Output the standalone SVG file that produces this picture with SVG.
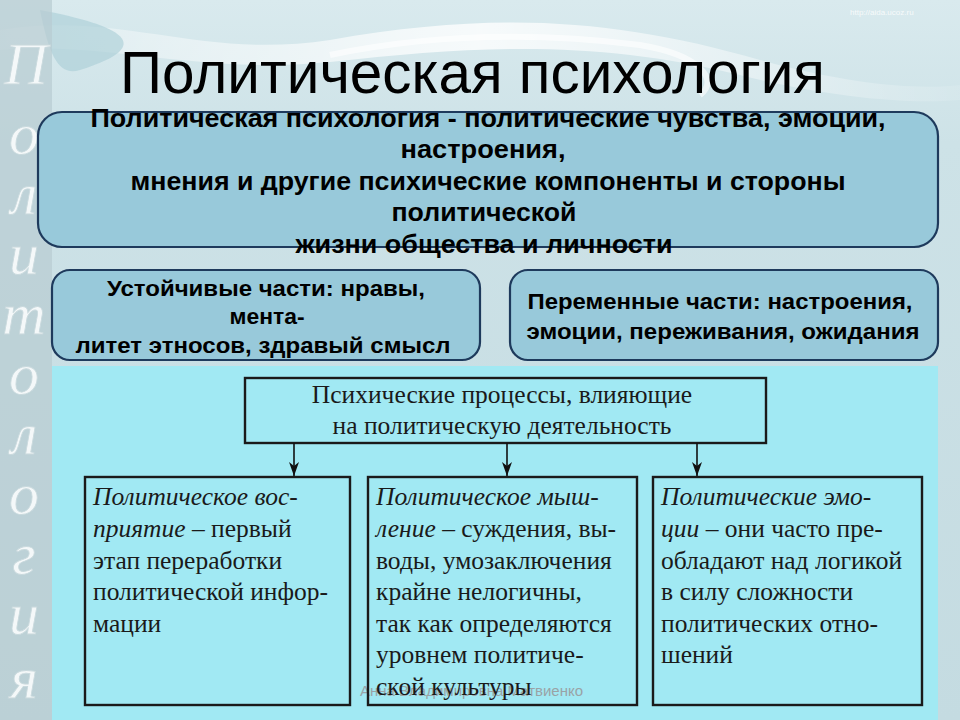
<svg xmlns="http://www.w3.org/2000/svg" width="960" height="720" viewBox="0 0 960 720">
<defs>
<linearGradient id="bg" x1="0" y1="0" x2="0" y2="1">
<stop offset="0" stop-color="#d9eaee"/>
<stop offset="0.2" stop-color="#cde2e7"/>
<stop offset="1" stop-color="#c4dbe1"/>
</linearGradient>
<linearGradient id="sw" x1="0" y1="0" x2="1" y2="0">
<stop offset="0" stop-color="#ffffff" stop-opacity="0.2"/>
<stop offset="0.5" stop-color="#ffffff" stop-opacity="0.8"/>
<stop offset="1" stop-color="#ffffff" stop-opacity="0.1"/>
</linearGradient>
<marker id="arr" markerWidth="14" markerHeight="10" refX="14" refY="5" orient="auto" markerUnits="userSpaceOnUse">
<path d="M0,0 L14,5 L0,10 L4,5 Z" fill="#111"/>
</marker>
<style>
.rb{fill:#98c9da;stroke:#1e3a5c;stroke-width:2.2}
.bt{font-family:"Liberation Sans",Arial,sans-serif;font-weight:bold;fill:#000;text-anchor:middle}
.side{font-family:"Liberation Serif","Times New Roman",serif;font-style:italic;font-size:60px;fill:#f4f8f9;text-anchor:middle;stroke:#c9d9dd;stroke-width:0.8}
.sq{fill:none;stroke:#1a1a1a;stroke-width:2.4}
.st{font-family:"Liberation Serif","Times New Roman",serif;font-size:25.5px;fill:#1a1a1a}
.it{font-style:italic}
</style>
</defs>
<rect x="0" y="0" width="960" height="720" fill="url(#bg)"/>
<path d="M0,30 C120,10 200,60 330,40 C500,10 620,20 760,60 C850,85 920,90 960,85 L960,100 C900,105 820,95 740,75 C600,40 480,45 330,62 C200,75 100,40 0,50 Z" fill="url(#sw)"/>
<path d="M40,10 C120,25 160,45 80,70 C60,76 50,60 40,10 Z" fill="#a9cdd6" opacity="0.6"/>
<path d="M330,55 C450,30 560,35 640,45 C700,55 720,80 700,95" fill="none" stroke="#ffffff" stroke-opacity="0.6" stroke-width="6"/>
<rect x="0" y="0" width="52" height="720" fill="#b8ccd2" opacity="0.7"/>
<text x="850" y="15" font-family="Liberation Sans,Arial,sans-serif" font-size="8" fill="#ffffff" opacity="0.8">http://aida.ucoz.ru</text>
<g id="side-title">
<text class="side" x="26" y="84">П</text>
<text class="side" x="24" y="154">о</text>
<text class="side" x="24" y="214">л</text>
<text class="side" x="24" y="274">и</text>
<text class="side" x="24" y="334">т</text>
<text class="side" x="24" y="394">о</text>
<text class="side" x="24" y="454">л</text>
<text class="side" x="24" y="514">о</text>
<text class="side" x="24" y="574">г</text>
<text class="side" x="24" y="634">и</text>
<text class="side" x="24" y="698">я</text>
</g>
<g id="title">
<text x="120" y="93" font-family="Liberation Sans,Arial,sans-serif" font-size="60" fill="#000" textLength="705" lengthAdjust="spacingAndGlyphs">Политическая психология</text>
</g>
<g id="definition">
<rect class="rb" x="38" y="112" width="900" height="135" rx="24"/>
<text class="bt" font-size="25"><tspan x="488" y="127" textLength="795" lengthAdjust="spacingAndGlyphs">Политическая психология - политические чувства, эмоции,</tspan><tspan x="483" y="158" textLength="165" lengthAdjust="spacingAndGlyphs">настроения,</tspan><tspan x="488" y="190" textLength="715" lengthAdjust="spacingAndGlyphs">мнения и другие психические компоненты и стороны</tspan><tspan x="484" y="221" textLength="185" lengthAdjust="spacingAndGlyphs">политической</tspan><tspan x="484" y="253" textLength="377" lengthAdjust="spacingAndGlyphs">жизни общества и личности</tspan></text>
</g>
<g id="stable">
<rect class="rb" x="52" y="270" width="428" height="90" rx="18"/>
<text class="bt" font-size="22"><tspan x="266" y="296" textLength="318" lengthAdjust="spacingAndGlyphs">Устойчивые части: нравы,</tspan><tspan x="267" y="324" textLength="75" lengthAdjust="spacingAndGlyphs">мента-</tspan><tspan x="263" y="353" textLength="375" lengthAdjust="spacingAndGlyphs">литет этносов, здравый смысл</tspan></text>
</g>
<g id="variable">
<rect class="rb" x="510" y="270" width="428" height="90" rx="18"/>
<text class="bt" font-size="22"><tspan x="720" y="309" textLength="385" lengthAdjust="spacingAndGlyphs">Переменные части: настроения,</tspan><tspan x="723" y="339" textLength="393" lengthAdjust="spacingAndGlyphs">эмоции, переживания, ожидания</tspan></text>
</g>
<rect x="52" y="366" width="886" height="354" fill="#a1e9f3"/>
<g id="processes">
<rect class="sq" x="245" y="378" width="521" height="65"/>
<text class="st" text-anchor="middle" font-size="24.5"><tspan x="502" y="403">Психические процессы, влияющие</tspan><tspan x="502" y="434">на политическую деятельность</tspan></text>
</g>
<g id="connectors">
<line x1="294" y1="443" x2="294" y2="476" stroke="#111" stroke-width="1.6" marker-end="url(#arr)"/>
<line x1="507" y1="443" x2="507" y2="476" stroke="#111" stroke-width="1.6" marker-end="url(#arr)"/>
<line x1="697" y1="443" x2="697" y2="476" stroke="#111" stroke-width="1.6" marker-end="url(#arr)"/>
</g>
<g id="perception">
<rect class="sq" x="85" y="477" width="265" height="228"/>
<text class="st"><tspan x="93" y="505" class="it">Политическое вос-</tspan><tspan x="93" y="537"><tspan class="it">приятие</tspan> – первый</tspan><tspan x="93" y="569">этап переработки</tspan><tspan x="93" y="600">политической инфор-</tspan><tspan x="93" y="632">мации</tspan></text>
</g>
<text x="360" y="696" font-family="Liberation Sans,Arial,sans-serif" font-size="15" fill="#9aa3a6">Анна Владимировна Матвиенко</text>
<g id="thinking">
<rect class="sq" x="368" y="477" width="269" height="228"/>
<text class="st"><tspan x="376" y="505" class="it">Политическое мыш-</tspan><tspan x="376" y="537"><tspan class="it">ление</tspan> – суждения, вы-</tspan><tspan x="376" y="569">воды, умозаключения</tspan><tspan x="376" y="600">крайне нелогичны,</tspan><tspan x="376" y="632">так как определяются</tspan><tspan x="376" y="663">уровнем политиче-</tspan><tspan x="376" y="695">ской культуры</tspan></text>
</g>
<g id="emotions">
<rect class="sq" x="653" y="477" width="269" height="228"/>
<text class="st"><tspan x="661" y="505" class="it">Политические эмо-</tspan><tspan x="661" y="537"><tspan class="it">ции</tspan> – они часто пре-</tspan><tspan x="661" y="569">обладают над логикой</tspan><tspan x="661" y="600">в силу сложности</tspan><tspan x="661" y="632">политических отно-</tspan><tspan x="661" y="663">шений</tspan></text>
</g>
</svg>
